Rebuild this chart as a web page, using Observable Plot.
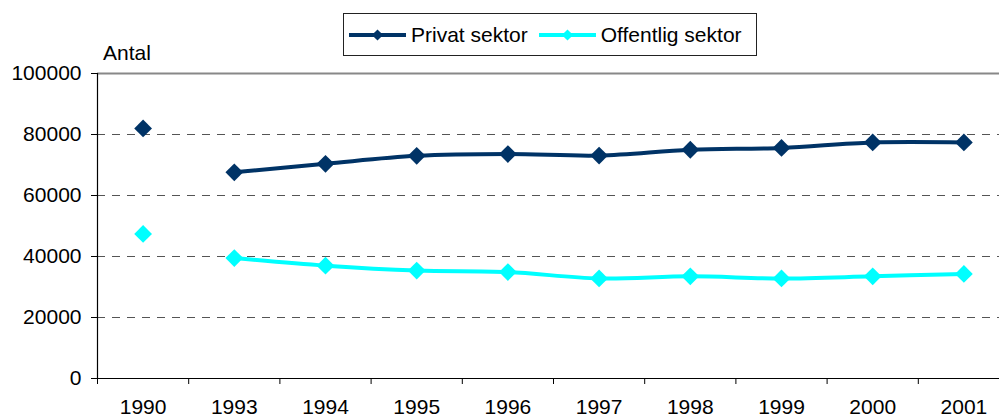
<!DOCTYPE html>
<html><head><meta charset="utf-8">
<script src="https://cdn.jsdelivr.net/npm/d3@7"></script>
<script src="https://cdn.jsdelivr.net/npm/@observablehq/plot@0.6"></script>
<style>
html,body{margin:0;padding:0;background:#fff;}
#wrap{position:relative;width:999px;height:418px;overflow:hidden;font-family:"Liberation Sans",Arial,sans-serif;color:#000;}
#wrap > svg{position:absolute;left:0;top:0;}
#ylabel{position:absolute;left:103px;top:42px;font-size:21px;line-height:21px;}
#legend{position:absolute;left:343px;top:13px;height:43px;box-sizing:border-box;border:1px solid #222;display:flex;align-items:center;padding:0 14px 0 5px;font-size:21px;background:#fff;white-space:nowrap;}
.item{display:flex;align-items:center;margin-right:11px;}
.item:last-child{margin-right:0;}
.item svg{margin-right:5px;display:block;}
</style></head><body><div id="wrap"></div>
<script>
// ---- data ----
const years = ["1990","1993","1994","1995","1996","1997","1998","1999","2000","2001"];
const privat = [82000, 67600, 70400, 73000, 73600, 73100, 75000, 75600, 77400, 77400];
const offentlig = [47400, 39500, 37000, 35400, 34900, 32800, 33500, 32800, 33500, 34300];
const seriesNames = ["Privat sektor", "Offentlig sektor"];
const seriesColors = ["#003366", "#00FFFF"];
const yTicks = [0, 20000, 40000, 60000, 80000, 100000];
const yLabel = "Antal";
const lineStartYear = "1993";

// ---- build table ----
const seriesValues = [privat, offentlig];
const rows = [];
seriesNames.forEach((name, s) => {
  years.forEach((yr, i) => rows.push({series: name, year: yr, idx: i, value: seriesValues[s][i]}));
});
const startIdx = years.indexOf(lineStartYear);
const xDomain = [-0.5, years.length - 0.5];
const yMax = yTicks[yTicks.length - 1];
const bandW = 91.2;

const wrap = document.getElementById("wrap");

const chart = Plot.plot({
  width: 999, height: 418,
  marginLeft: 97, marginTop: 73, marginBottom: 40, marginRight: 0,
  style: {fontFamily: '"Liberation Sans", Arial, sans-serif', fontSize: "21px", color: "#000", background: "transparent"},
  x: {type: "linear", domain: xDomain, range: [97, 97 + years.length * bandW]},
  y: {domain: [0, yMax], range: [378, 73]},
  color: {domain: seriesNames, range: seriesColors},
  marks: [
    Plot.ruleY(yTicks.filter(v => v > 0 && v < yMax), {stroke: "#555", strokeDasharray: "8,7", strokeWidth: 1}),
    Plot.ruleY([yMax], {stroke: "#888", strokeWidth: 2}),
    Plot.ruleY([0], {stroke: "#000", strokeWidth: 1.2}),
    Plot.ruleX([xDomain[0]], {stroke: "#000", strokeWidth: 1.2}),
    Plot.axisY({ticks: yTicks, tickSize: 6, tickPadding: 10, tickFormat: d3.format("d"), label: null}),
    Plot.axisX({ticks: d3.range(years.length), tickSize: 0, tickPadding: 21, tickFormat: i => years[i], label: null}),
    Plot.axisX({ticks: d3.range(years.length + 1).map(i => i - 0.5), tickSize: 6, tickFormat: () => "", label: null}),
    Plot.line(rows.filter(d => d.idx >= startIdx), {x: "idx", y: "value", z: "series", stroke: "series", strokeWidth: 4, curve: "cardinal"}),
    Plot.dot(rows, {x: "idx", y: "value", fill: "series", symbol: "diamond2", r: 8})
  ]
});
wrap.appendChild(chart);

const yl = document.createElement("div");
yl.id = "ylabel";
yl.textContent = yLabel;
wrap.appendChild(yl);

const legend = document.createElement("div");
legend.id = "legend";
const diamondPath = d3.symbol(d3.symbolDiamond2, 80)();
seriesNames.forEach((name, s) => {
  const item = document.createElement("div");
  item.className = "item";
  item.innerHTML = `<svg width="57" height="20" viewBox="0 0 57 20"><line x1="0" x2="57" y1="10" y2="10" stroke="${seriesColors[s]}" stroke-width="4"/><path d="${diamondPath}" transform="translate(28.5,10)" fill="${seriesColors[s]}"/></svg><span>${name}</span>`;
  legend.appendChild(item);
});
wrap.appendChild(legend);
</script>
</body></html>
